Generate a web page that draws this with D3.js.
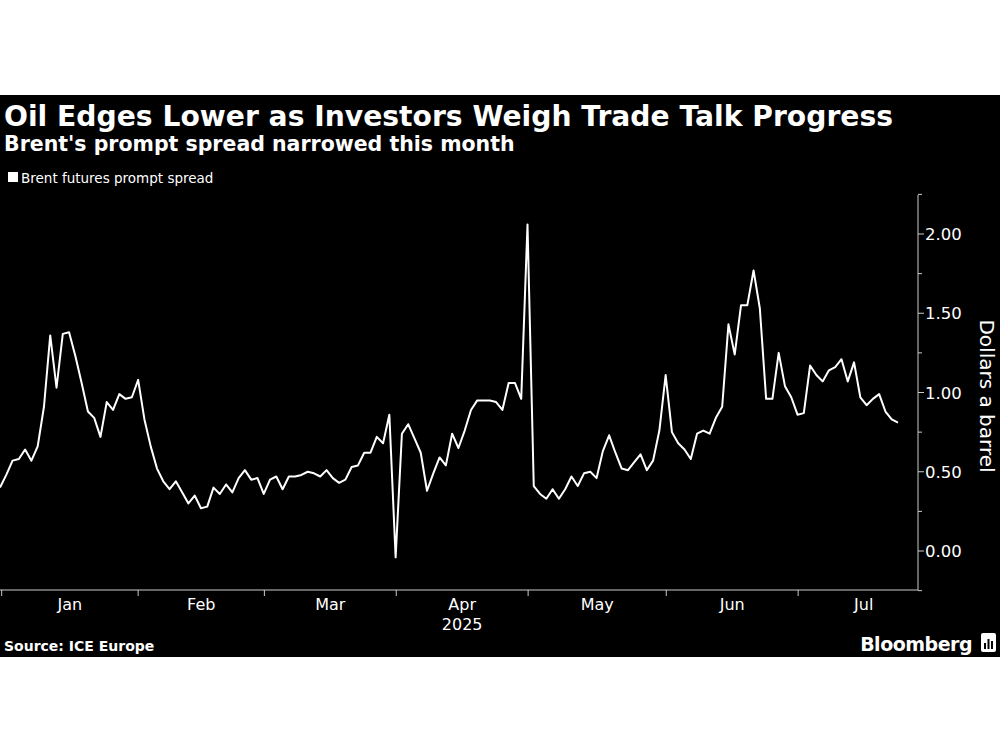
<!DOCTYPE html>
<html>
<head>
<meta charset="utf-8">
<script src="https://cdn.jsdelivr.net/npm/d3@7"></script>
<style>
  body { margin: 0; background: #fff; }
  svg { display: block; }
</style>
</head>
<body>
<svg id="chart"></svg>
<script>
// Brent prompt spread, one value per trading day, Jan -> early Jul 2025
const values = [
  0.40, 0.48, 0.57, 0.58, 0.64, 0.57, 0.66, 0.91, 1.36, 1.03, 1.37, 1.38, 1.23, 1.06,
  0.88, 0.84, 0.72, 0.94, 0.89, 0.99, 0.96, 0.97, 1.08, 0.83, 0.66, 0.52, 0.44, 0.39,
  0.44, 0.37, 0.30, 0.35, 0.27, 0.28, 0.40, 0.36, 0.42, 0.37, 0.46, 0.51, 0.45, 0.46,
  0.36, 0.45, 0.47, 0.39, 0.47, 0.47, 0.48, 0.50, 0.49, 0.47, 0.51, 0.46, 0.43, 0.45,
  0.53, 0.54, 0.62, 0.62, 0.72, 0.68, 0.86, -0.04, 0.74, 0.80, 0.71, 0.62, 0.38, 0.49,
  0.59, 0.54, 0.74, 0.65,
  0.76, 0.89, 0.95, 0.95, 0.95, 0.94, 0.89, 1.06, 1.06, 0.96, 2.06, 0.41, 0.36, 0.33,
  0.39, 0.33, 0.39, 0.47, 0.41, 0.49, 0.50, 0.46, 0.63, 0.73, 0.62, 0.52, 0.51, 0.56,
  0.61, 0.51, 0.57, 0.76, 1.11, 0.75, 0.68, 0.64, 0.58, 0.74, 0.76, 0.74, 0.84, 0.91,
  1.43, 1.24, 1.55, 1.55, 1.77, 1.53, 0.96, 0.96, 1.25, 1.04, 0.97, 0.86, 0.87, 1.17,
  1.11, 1.07, 1.14, 1.16, 1.21, 1.07, 1.19, 0.97, 0.92, 0.96, 0.99, 0.88, 0.83, 0.81
];
// month boundaries as positions on the trading-day index
const monthStarts = [0.27, 22.0, 42.1, 63.1, 84.1, 106.1, 127.1, 148.0];
const monthLabels = ["Jan", "Feb", "Mar", "Apr", "May", "Jun", "Jul"];
const yTicks = [0, 0.5, 1, 1.5, 2];
const yMinorTicks = [-0.25, 0.25, 0.75, 1.25, 1.75, 2.25];

const width = 1000, height = 750;
const svg = d3.select("#chart").attr("width", width).attr("height", height);

svg.append("rect").attr("x", 0).attr("y", 95).attr("width", width).attr("height", 562).attr("fill", "#000");

const font = "'DejaVu Sans', sans-serif";

svg.append("text").attr("x", 4).attr("y", 126).attr("fill", "#fff")
  .attr("font-family", font).attr("font-weight", "bold").attr("font-size", 28.2)
  .text("Oil Edges Lower as Investors Weigh Trade Talk Progress");
svg.append("text").attr("x", 4).attr("y", 151).attr("fill", "#fff")
  .attr("font-family", font).attr("font-weight", "bold").attr("font-size", 20.5)
  .text("Brent's prompt spread narrowed this month");

// legend
svg.append("rect").attr("x", 8).attr("y", 172).attr("width", 10).attr("height", 10).attr("fill", "#fff");
svg.append("text").attr("x", 21).attr("y", 183).attr("fill", "#fff")
  .attr("font-family", font).attr("font-size", 13.5).text("Brent futures prompt spread");

const x = d3.scaleLinear().domain([0, values.length - 1]).range([0, 898]);
const y = d3.scaleLinear().domain([0, 2]).range([551, 234]);
const axisRight = 918;

// x axis
const xa = svg.append("g");
xa.append("line").attr("x1", 0).attr("x2", axisRight).attr("y1", 590).attr("y2", 590)
  .attr("stroke", "#ccc").attr("stroke-width", 1);
xa.selectAll("line.tick").data(monthStarts.slice(0, 7)).join("line")
  .attr("x1", d => x(d)).attr("x2", d => x(d)).attr("y1", 590).attr("y2", 596)
  .attr("stroke", "#ccc");
xa.selectAll("text").data(monthLabels).join("text")
  .attr("x", (d, i) => (x(monthStarts[i]) + x(monthStarts[i + 1])) / 2)
  .attr("y", 610).attr("text-anchor", "middle").attr("fill", "#fff")
  .attr("font-family", font).attr("font-size", 16).text(d => d);
svg.append("text").attr("x", (x(monthStarts[3]) + x(monthStarts[4])) / 2).attr("y", 630)
  .attr("text-anchor", "middle").attr("fill", "#fff")
  .attr("font-family", font).attr("font-size", 16).text("2025");

// y axis on the right
const ya = svg.append("g");
ya.append("line").attr("x1", axisRight).attr("x2", axisRight).attr("y1", 195).attr("y2", 590)
  .attr("stroke", "#ccc");
ya.selectAll("line.major").data(yTicks).join("line").attr("class", "major")
  .attr("x1", axisRight).attr("x2", axisRight + 6).attr("y1", d => y(d)).attr("y2", d => y(d))
  .attr("stroke", "#ccc");
ya.selectAll("line.minor").data(yMinorTicks).join("line").attr("class", "minor")
  .attr("x1", axisRight).attr("x2", axisRight + 4).attr("y1", d => y(d)).attr("y2", d => y(d))
  .attr("stroke", "#ccc");
ya.selectAll("text").data(yTicks).join("text")
  .attr("x", axisRight + 7).attr("y", d => y(d) + 6).attr("fill", "#fff")
  .attr("font-family", font).attr("font-size", 16.5).text(d => d3.format(".2f")(d));
svg.append("text").attr("transform", "translate(980,396) rotate(90)")
  .attr("text-anchor", "middle").attr("fill", "#fff")
  .attr("font-family", font).attr("font-size", 20).text("Dollars a barrel");

// line
const line = d3.line().x((d, i) => x(i)).y(d => y(d));
svg.append("path").datum(values).attr("d", line).attr("fill", "none")
  .attr("stroke", "#fff").attr("stroke-width", 2).attr("stroke-linejoin", "round");

// footer
svg.append("text").attr("x", 4).attr("y", 651).attr("fill", "#fff")
  .attr("font-family", font).attr("font-weight", "bold").attr("font-size", 14)
  .text("Source: ICE Europe");
svg.append("text").attr("x", 972).attr("y", 651).attr("text-anchor", "end").attr("fill", "#fff")
  .attr("font-family", font).attr("font-weight", "bold").attr("font-size", 19)
  .attr("letter-spacing", -0.5).text("Bloomberg");
const logo = svg.append("g").attr("transform", "translate(981,633)");
logo.append("rect").attr("width", 15).attr("height", 19).attr("rx", 2).attr("fill", "#fff");
logo.selectAll("rect.bar").data([6, 10, 8]).join("rect").attr("class", "bar")
  .attr("x", (d, i) => 3 + i * 3.5).attr("y", d => 16 - d).attr("width", 2).attr("height", d => d)
  .attr("fill", "#000");
</script>
</body>
</html>
